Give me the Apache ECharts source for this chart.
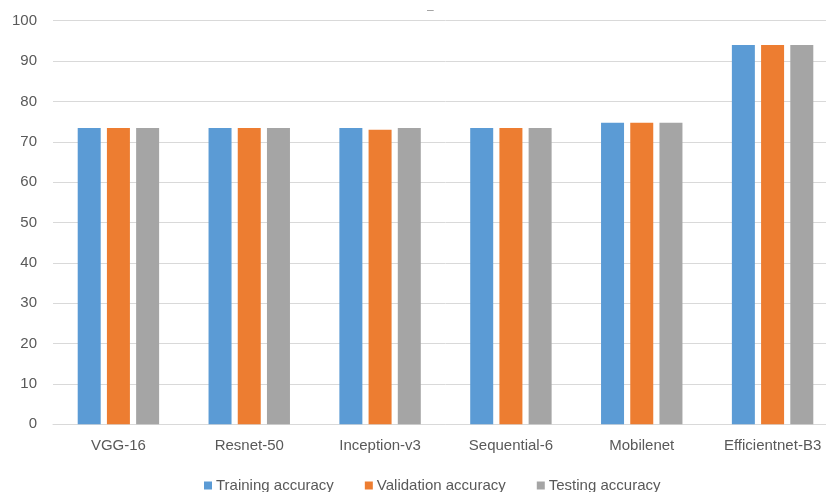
<!DOCTYPE html>
<html>
<head>
<meta charset="utf-8">
<script src="https://cdn.jsdelivr.net/npm/echarts@6/dist/echarts.min.js"></script>
<style>
  html, body { margin: 0; padding: 0; background: #fff; overflow: hidden; }
  #chart { width: 842px; height: 492px; }
</style>
</head>
<body>
<div id="chart"></div>
<script>
// Model names along the x axis
const categories = ['VGG-16', 'Resnet-50', 'Inception-v3', 'Sequential-6', 'Mobilenet', 'Efficientnet-B3'];

// Accuracy (%) per model
const trainingAccuracy   = [73.4, 73.4, 73.4, 73.4, 74.7, 94.0];
const validationAccuracy = [73.4, 73.4, 73.0, 73.4, 74.7, 94.0];
const testingAccuracy    = [73.4, 73.4, 73.4, 73.4, 74.7, 94.0];

// Y axis range
const yMin = 0, yMax = 100, yStep = 10;

const FONT = '"Liberation Sans", Arial, sans-serif';
const TEXT = '#595959';

const chart = echarts.init(document.getElementById('chart'), null, { renderer: 'canvas' });

const barStyle = (name, color, data) => ({
  name: name,
  type: 'bar',
  data: data,
  barWidth: 23,
  barGap: '27%',
  itemStyle: { color: color },
  emphasis: { disabled: true }
});

chart.setOption({
  animation: false,
  title: {
    text: '–',
    left: 422,
    top: 0,
    textStyle: { fontSize: 12, color: '#9a9a9a', fontWeight: 'normal', fontFamily: FONT }
  },
  color: ['#5B9BD5', '#ED7D31', '#A5A5A5'],
  legend: {
    data: ['Training accuracy', 'Validation accuracy', 'Testing accuracy'],
    left: 199,
    top: 473,
    icon: 'rect',
    itemWidth: 8,
    itemHeight: 8,
    itemGap: 31,
    textStyle: { color: TEXT, fontSize: 15, fontFamily: FONT, padding: [0, 0, 0, -1] }
  },
  grid: {
    left: 53,
    top: 20.7,
    width: 785,
    height: 403.6,
    containLabel: false
  },
  xAxis: {
    type: 'category',
    data: categories,
    axisLine: { show: true, lineStyle: { color: '#D9D9D9', width: 1 } },
    axisTick: { show: false },
    axisLabel: { color: TEXT, fontSize: 15, fontFamily: FONT, margin: 14, interval: 0 }
  },
  yAxis: {
    type: 'value',
    min: yMin,
    max: yMax,
    interval: yStep,
    axisLine: { show: false },
    axisTick: { show: false },
    splitLine: { lineStyle: { color: '#D9D9D9', width: 1 } },
    axisLabel: { color: TEXT, fontSize: 15, fontFamily: FONT, margin: 16 }
  },
  series: [
    barStyle('Training accuracy', '#5B9BD5', trainingAccuracy),
    barStyle('Validation accuracy', '#ED7D31', validationAccuracy),
    barStyle('Testing accuracy', '#A5A5A5', testingAccuracy)
  ]
});
</script>
</body>
</html>
